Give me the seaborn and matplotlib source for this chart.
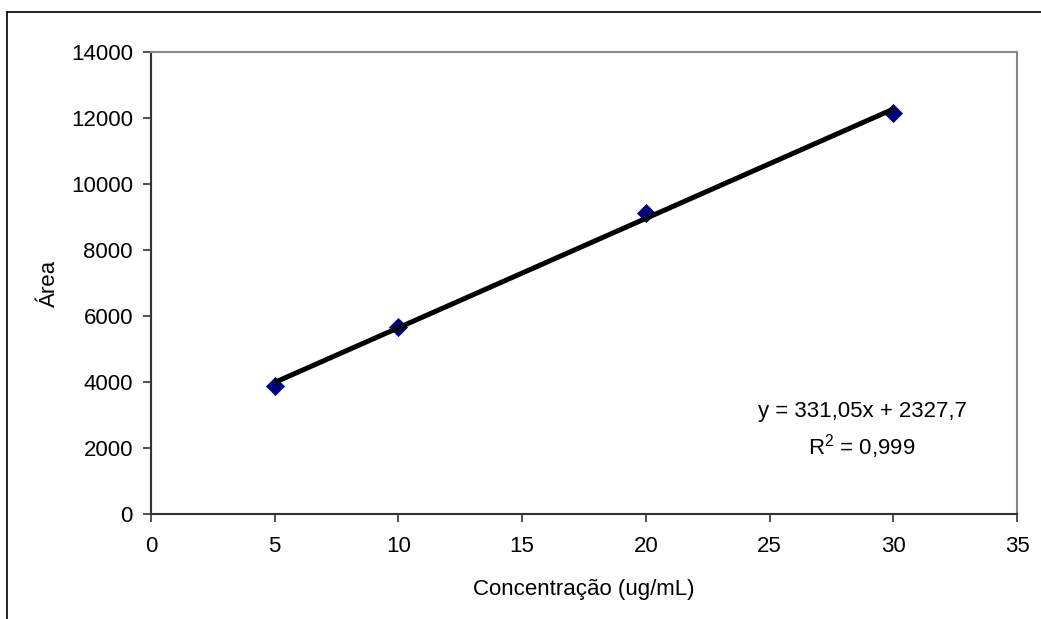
import numpy as np
import pandas as pd
import matplotlib
matplotlib.use("Agg")
import matplotlib.pyplot as plt
import seaborn as sns
from matplotlib.lines import Line2D

# Data
concentracao = [5, 10, 20, 30]
area = [3890, 5680, 9130, 12160]
x_ticks = [0, 5, 10, 15, 20, 25, 30, 35]
y_ticks = [0, 2000, 4000, 6000, 8000, 10000, 12000, 14000]
eq_text = "y = 331,05x + 2327,7"
r2_text = "R$^2$ = 0,999"

df = pd.DataFrame({"x": concentracao, "y": area})

sns.set_theme(style="white")
plt.rcParams['font.family'] = ['Liberation Sans', 'DejaVu Sans']
plt.rcParams['text.color'] = 'black'
plt.rcParams['mathtext.fontset'] = 'custom'
plt.rcParams['mathtext.rm'] = 'Liberation Sans'

W, H = 1041, 619
FS = 16
fig = plt.figure(figsize=(W / 100, H / 100), dpi=100)
ax = fig.add_axes([151 / W, 1 - 514 / H, (1017 - 151) / W, (514 - 52) / H])

sns.scatterplot(data=df, x="x", y="y", ax=ax, marker="D", s=85,
                color="#000080", edgecolor="#000080", linewidth=0.5, zorder=2)
sns.regplot(data=df, x="x", y="y", ax=ax, scatter=False, ci=None,
            line_kws=dict(color="black", lw=3.6, solid_capstyle="butt", zorder=3))

ax.set_xlim(0, 35)
ax.set_ylim(0, 14000)
ax.set_xticks(x_ticks)
ax.set_yticks(y_ticks)
ax.set_xticklabels([str(v) for v in x_ticks])
ax.set_yticklabels([str(v) for v in y_ticks])
ax.tick_params(axis="both", labelsize=FS, colors="black")
ax.tick_params(axis="x", direction="out", length=6, width=1.2, pad=10, color="#333333")
ax.tick_params(axis="y", direction="out", length=6, width=1.2, pad=7, color="#333333")
ax.xaxis.set_ticks_position("bottom")
ax.yaxis.set_ticks_position("left")

for s in ["left", "bottom"]:
    ax.spines[s].set_color("#333333")
    ax.spines[s].set_linewidth(1.5)
for s in ["top", "right"]:
    ax.spines[s].set_color("#888888")
    ax.spines[s].set_linewidth(1.5)
    ax.spines[s].set_visible(True)

ax.set_xlabel("Concentração (ug/mL)", fontsize=FS, color="black", labelpad=16)
ax.set_ylabel("Área", fontsize=FS, color="black", labelpad=8)
ax.grid(False)

fig.text(862 / W, 1 - 412 / H, eq_text, fontsize=FS, ha="center", va="center", color="black")
fig.text(862 / W, 1 - 447 / H, r2_text, fontsize=FS, ha="center", va="center", color="black")

# outer border (Excel chart area)
fig.add_artist(Line2D([7 / W, 7 / W], [0, 1 - 12 / H], transform=fig.transFigure,
                      color="black", lw=1.2))
fig.add_artist(Line2D([7 / W, 1], [1 - 12 / H, 1 - 12 / H], transform=fig.transFigure,
                      color="black", lw=1.2))

fig.savefig("out.png", dpi=100)
